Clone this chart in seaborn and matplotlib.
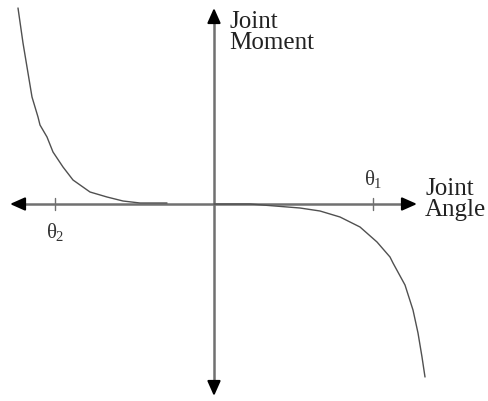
import numpy as np
import pandas as pd
import seaborn as sns
import matplotlib.pyplot as plt

# curve (angle, moment), origin where the axes cross
left_angle = [-196, -191, -187, -182, -176, -174, -167, -161, -151, -141, -124, -107, -91, -74, -47]
left_moment = [196, 161, 137, 107, 87, 79, 67, 52, 37, 24, 12, 7, 3, 1, 1]
right_angle = [0, 36, 86, 106, 126, 146, 163, 176, 179, 191, 199, 204, 208, 211]
right_moment = [0, 0, -4, -7, -13, -23, -38, -53, -59, -81, -106, -129, -153, -173]

tick_angles = [-159, 159]
tick_labels = [r'$\theta_2$', r'$\theta_1$']

sns.set_style('white')
plt.rcParams['font.family'] = ['Liberation Serif', 'DejaVu Serif']
plt.rcParams['mathtext.fontset'] = 'custom'
plt.rcParams['mathtext.it'] = 'Liberation Serif'
plt.rcParams['mathtext.rm'] = 'Liberation Serif'

fig = plt.figure(figsize=(4.88, 4.01), dpi=100)
ax = fig.add_axes([0, 0, 1, 1])

axis_col = '#707070'
arrow_kw = dict(arrowstyle='-|>,head_length=0.9,head_width=0.4', color='black',
                lw=1.5, shrinkA=0, shrinkB=0)

# horizontal axis with arrowheads at both ends
ax.plot([-196, 196], [0, 0], color=axis_col, lw=1.8, zorder=1)
ax.annotate('', xy=(-204, 0), xytext=(-192, 0), arrowprops=arrow_kw)
ax.annotate('', xy=(203, 0), xytext=(191, 0), arrowprops=arrow_kw)
# vertical axis
ax.plot([0, 0], [-182, 186], color=axis_col, lw=1.8, zorder=1)
ax.annotate('', xy=(0, 196), xytext=(0, 184), arrowprops=arrow_kw)
ax.annotate('', xy=(0, -192), xytext=(0, -180), arrowprops=arrow_kw)

# curve
df_left = pd.DataFrame({'angle': left_angle, 'moment': left_moment})
df_right = pd.DataFrame({'angle': right_angle, 'moment': right_moment})
sns.lineplot(data=df_left, x='angle', y='moment', ax=ax, color='#505050', lw=1.0, sort=False)
sns.lineplot(data=df_right, x='angle', y='moment', ax=ax, color='#505050', lw=1.0, sort=False)
ax.set_xlim(-214, 274)
ax.set_ylim(-197, 204)
ax.axis('off')

# tick marks
for t in tick_angles:
    ax.plot([t, t], [-6, 6], color=axis_col, lw=1.0)
ax.text(tick_angles[0], -17, tick_labels[0], fontsize=15, ha='center', va='top', color='#333333')
ax.text(tick_angles[1], 14, tick_labels[1], fontsize=15, ha='center', va='bottom', color='#333333')

ax.text(15, 193, 'Joint\nMoment', fontsize=18, ha='left', va='top', linespacing=0.92, color='#222222')
ax.text(211, 26, 'Joint\nAngle', fontsize=18, ha='left', va='top', linespacing=0.92, color='#222222')

fig.savefig('out.png', dpi=100)
